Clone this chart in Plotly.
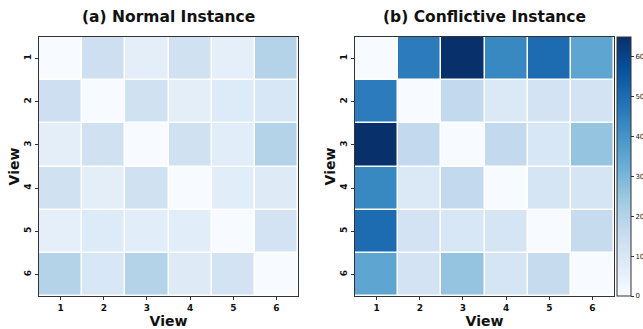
import plotly.graph_objects as go

views = [1, 2, 3, 4, 5, 6]
tick_labels = ["1", "2", "3", "4", "5", "6"]

normal_values = [
    [0, 14, 6.5, 13, 6, 20],
    [14, 0, 13, 6.5, 8.5, 10],
    [6.5, 13, 0, 13, 7, 20],
    [13, 6.5, 13, 0, 7, 8],
    [6, 8.5, 7, 7, 0, 12],
    [20, 10, 20, 8, 12, 0],
]

conflict_values = [
    [0, 46, 65, 43, 50, 35],
    [46, 0, 17, 9, 12, 12],
    [65, 17, 0, 17, 10, 26],
    [43, 9, 17, 0, 11, 11],
    [50, 12, 10, 11, 0, 16],
    [35, 12, 26, 11, 16, 0],
]

zmin, zmax = 0, 65
cbar_ticks = [0, 10, 20, 30, 40, 50, 60]

# figure is a bit wider than the window so the colorbar labels run off the edge
W, H = 665, 329


def px(x):
    return x / W


def py(y):
    return 1 - y / H


y0 = py(296)
y1 = py(37)
xa = [px(39), px(298)]
xb = [px(355), px(614)]

fig = go.Figure()
fig.add_trace(go.Heatmap(
    z=normal_values, x=views, y=views, colorscale="Blues", zmin=zmin, zmax=zmax,
    xgap=1.5, ygap=1.5, showscale=False, xaxis="x", yaxis="y"))
fig.add_trace(go.Heatmap(
    z=conflict_values, x=views, y=views, colorscale="Blues", zmin=zmin, zmax=zmax,
    xgap=1.5, ygap=1.5, xaxis="x2", yaxis="y2",
    colorbar=dict(
        x=px(617), xanchor="left", xref="paper", y=y0, yanchor="bottom",
        len=y1 - y0, lenmode="fraction", thickness=14, thicknessmode="pixels",
        outlinecolor="#333", outlinewidth=1, xpad=0, ypad=0,
        tickvals=cbar_ticks, ticks="outside", ticklen=3, tickcolor="#333",
        tickfont=dict(family="DejaVu Sans", size=7, color="#222"),
    )))

axis_common = dict(
    showline=True, mirror=True, linecolor="#333", linewidth=1.2,
    ticks="outside", ticklen=3, tickcolor="#333", showgrid=False, zeroline=False,
    tickvals=views, ticktext=tick_labels, automargin=False,
    tickfont=dict(family="DejaVu Sans", size=9, color="#111", weight="bold"),
)
title_font = dict(family="DejaVu Sans", size=14, color="#111", weight="bold")

fig.update_layout(
    width=W, height=H, margin=dict(l=0, r=0, t=0, b=0, autoexpand=False),
    paper_bgcolor="white", plot_bgcolor="white",
    xaxis=dict(domain=xa, anchor="y", range=[0.5, 6.5],
               title=dict(text="View", font=title_font, standoff=1), **axis_common),
    yaxis=dict(domain=[y0, y1], anchor="x", range=[6.5, 0.5], tickangle=-90,
               title=dict(text="View", font=title_font, standoff=0), **axis_common),
    xaxis2=dict(domain=xb, anchor="y2", range=[0.5, 6.5],
                title=dict(text="View", font=title_font, standoff=1), **axis_common),
    yaxis2=dict(domain=[y0, y1], anchor="x2", range=[6.5, 0.5], tickangle=-90,
                title=dict(text="View", font=title_font, standoff=0), **axis_common),
    annotations=[
        dict(text="(a) Normal Instance", x=(xa[0] + xa[1]) / 2, y=py(17),
             xref="paper", yref="paper", showarrow=False, xanchor="center", yanchor="middle",
             font=dict(family="DejaVu Sans", size=15.5, color="#111", weight="bold")),
        dict(text="(b) Conflictive Instance", x=(xb[0] + xb[1]) / 2, y=py(17),
             xref="paper", yref="paper", showarrow=False, xanchor="center", yanchor="middle",
             font=dict(family="DejaVu Sans", size=15.5, color="#111", weight="bold")),
    ],
)

fig.write_html(
    "out.html",
    config={"displayModeBar": False},
    post_script="document.body.style.margin='0';document.body.style.overflow='hidden';",
)
